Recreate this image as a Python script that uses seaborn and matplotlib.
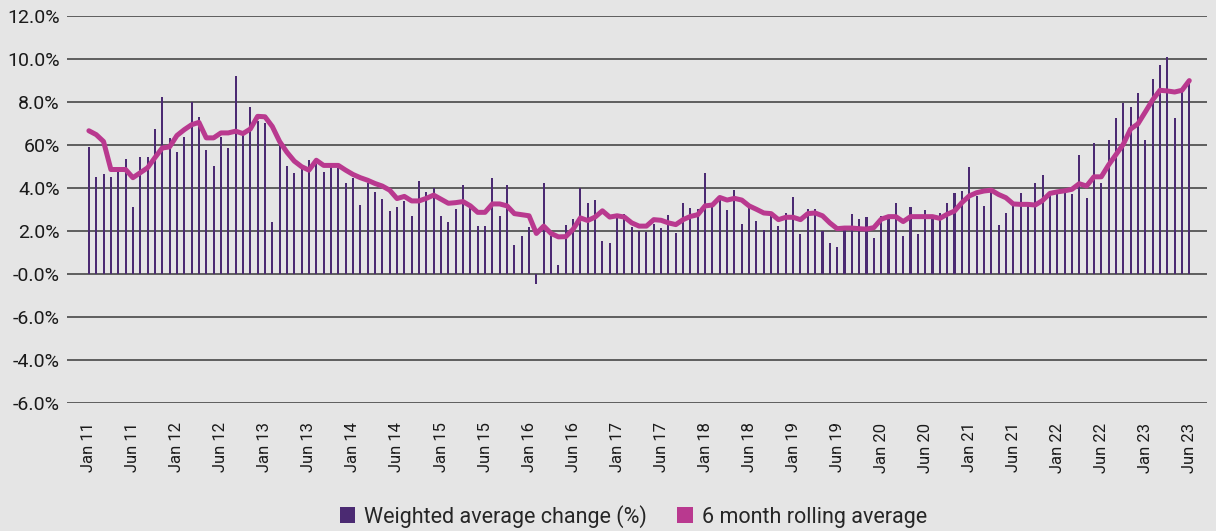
import numpy as np
import pandas as pd
import matplotlib
matplotlib.use("Agg")
import matplotlib.pyplot as plt
import seaborn as sns
from matplotlib.patches import Patch

# monthly weighted average change (%), Jan 11 .. Jul 23
change = [
    5.9, 4.5, 4.65, 4.5, 4.8, 5.35, 3.1, 5.45, 5.45, 6.75,
    8.2, 6.3, 5.65, 6.35, 8.0, 7.3, 5.75, 5.0, 6.35, 5.85,
    9.2, 6.5, 7.75, 7.1, 7.0, 2.4, 6.0, 5.0, 4.7, 4.95,
    5.3, 5.1, 4.75, 4.95, 4.9, 4.2, 4.45, 3.2, 4.2, 3.8,
    3.5, 2.9, 3.1, 3.4, 2.7, 4.3, 3.8, 4.0, 2.7, 2.4,
    3.0, 4.15, 3.1, 2.22, 2.22, 4.45, 2.7, 4.15, 1.35, 1.75,
    2.2, -0.45, 4.2, 1.75, 0.43, 2.26, 2.55, 4.0, 3.28, 3.42,
    1.55, 1.43, 2.6, 2.78, 2.2, 2.0, 1.95, 2.3, 2.15, 2.75,
    1.9, 3.28, 3.07, 3.0, 4.68, 3.1, 3.45, 2.95, 3.88, 2.34,
    3.1, 2.48, 2.05, 2.72, 2.22, 2.83, 3.56, 1.87, 3.0, 3.0,
    1.97, 1.45, 1.24, 2.07, 2.77, 2.55, 2.63, 1.65, 2.7, 2.6,
    3.3, 1.74, 3.13, 1.87, 2.98, 2.6, 2.84, 3.3, 3.76, 3.83,
    4.95, 3.6, 3.15, 3.8, 2.27, 2.84, 3.2, 3.78, 3.22, 4.22,
    4.58, 3.87, 3.72, 3.93, 3.72, 5.54, 3.53, 6.1, 4.22, 6.24,
    7.25, 7.93, 7.75, 8.4, 6.2, 9.05, 9.7, 10.1, 7.25, 8.5,
    8.9,
]

# 6 month rolling average (%), as drawn
rolling = [
    6.65, 6.47, 6.15, 4.85, 4.85, 4.85, 4.47, 4.7, 4.93, 5.4,
    5.85, 5.9, 6.43, 6.7, 6.93, 7.04, 6.32, 6.32, 6.55, 6.55,
    6.63, 6.52, 6.73, 7.32, 7.3, 6.85, 6.15, 5.65, 5.24, 4.98,
    4.82, 5.28, 5.04, 5.04, 5.04, 4.82, 4.62, 4.47, 4.35, 4.2,
    4.08, 3.89, 3.5, 3.6, 3.39, 3.39, 3.51, 3.66, 3.47, 3.28,
    3.31, 3.36, 3.16, 2.86, 2.86, 3.25, 3.25, 3.16, 2.8, 2.75,
    2.7, 1.88, 2.22, 1.88, 1.72, 1.73, 2.07, 2.6, 2.48, 2.64,
    2.93, 2.64, 2.7, 2.64, 2.37, 2.22, 2.22, 2.52, 2.49, 2.37,
    2.29, 2.52, 2.67, 2.75, 3.16, 3.2, 3.55, 3.43, 3.51, 3.43,
    3.16, 3.0, 2.83, 2.8, 2.52, 2.63, 2.63, 2.52, 2.8, 2.83,
    2.7, 2.37, 2.1, 2.13, 2.13, 2.1, 2.08, 2.15, 2.54, 2.66,
    2.66, 2.43, 2.66, 2.66, 2.66, 2.66, 2.58, 2.77, 2.92, 3.31,
    3.62, 3.77, 3.85, 3.89, 3.69, 3.54, 3.25, 3.23, 3.23, 3.2,
    3.41, 3.74, 3.81, 3.86, 3.93, 4.19, 4.08, 4.51, 4.51, 5.06,
    5.54, 6.02, 6.73, 6.97, 7.52, 8.08, 8.53, 8.5, 8.45, 8.53,
    8.98,
]

tick_labels = ["Jan 11", "Jun 11", "Jan 12", "Jun 12", "Jan 13", "Jun 13", "Jan 14",
               "Jun 14", "Jan 15", "Jun 15", "Jan 16", "Jun 16", "Jan 17", "Jun 17",
               "Jan 18", "Jun 18", "Jan 19", "Jun 19", "Jan 20", "Jun 20", "Jan 21",
               "Jun 21", "Jan 22", "Jun 22", "Jan 23", "Jun 23"]
y_ticks = [-6, -4, -2, 0, 2, 4, 6, 8, 10, 12]
y_labels = ["-6.0%", "-4.0%", "-6.0%", "-0.0%", "2.0%", "4.0%", "60%", "8.0%", "10.0%", "12.0%"]

bar_color = "#4b2a72"
line_color = "#b9398f"
bg = "#e5e5e5"

df = pd.DataFrame({"month": np.arange(len(change)), "change": change, "rolling": rolling})

sns.set_style("white")
plt.rcParams["font.family"] = ["Roboto", "DejaVu Sans"]

fig = plt.figure(figsize=(12.16, 5.31), dpi=100, facecolor=bg)
ax = fig.add_axes([0.055, 0.241, 0.9375, 0.7296])
ax.set_facecolor(bg)

sns.barplot(data=df, x="month", y="change", native_scale=True, width=0.28,
            color=bar_color, saturation=1, linewidth=0, ax=ax, zorder=3)
sns.lineplot(data=df, x="month", y="rolling", color=line_color, linewidth=3.6,
             ax=ax, zorder=4)

ax.set_xlim(-3, len(change) + 1.4)
ax.set_ylim(-6, 12)
ax.set_yticks(y_ticks)
ax.set_yticklabels(y_labels, fontsize=14, color="#1a1a1a")
ax.set_xticks(np.arange(0, len(change), 6))
ax.set_xticklabels(tick_labels, rotation=90, fontsize=12, color="#1a1a1a")
ax.tick_params(axis="y", length=0, pad=5)
ax.tick_params(axis="x", length=0, pad=14)
ax.set_xlabel("")
ax.set_ylabel("")
for v in y_ticks:
    ax.axhline(v, color="#3a3a3a", linewidth=1.1, zorder=1)
for s in ax.spines.values():
    s.set_visible(False)

handles = [Patch(facecolor=bar_color, edgecolor="none", label="Weighted average change (%)"),
           Patch(facecolor=line_color, edgecolor="none", label="6 month rolling average")]
fig.legend(handles=handles, loc="center", bbox_to_anchor=(0.521, 0.028), ncol=2,
           frameon=False, fontsize=15.5, handlelength=0.7, handleheight=0.7,
           handletextpad=0.45, columnspacing=1.4)

fig.savefig("out.png", dpi=100, facecolor=bg)
